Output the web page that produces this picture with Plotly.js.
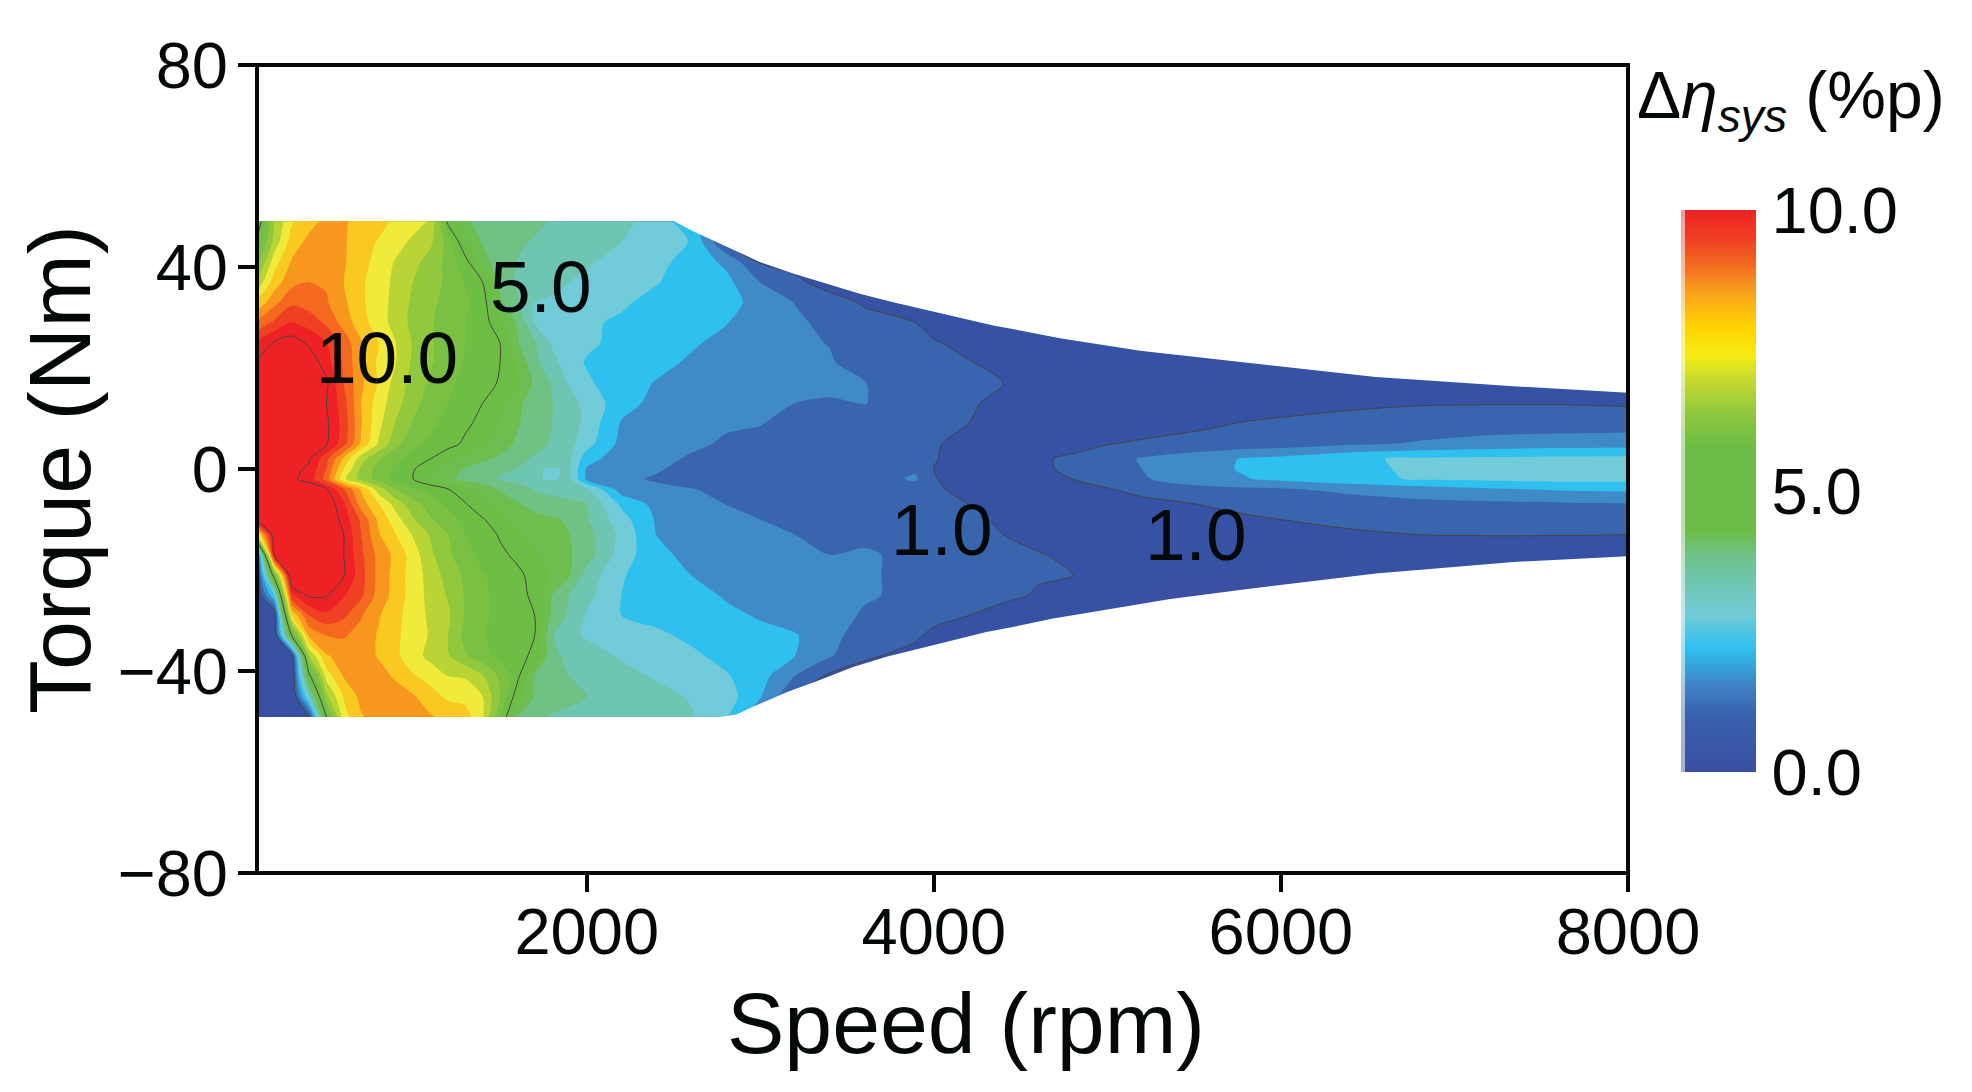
<!DOCTYPE html>
<html>
<head>
<meta charset="utf-8">
<script src="https://cdn.plot.ly/plotly-3.0.1.min.js"></script>
<style>html,body{margin:0;padding:0;background:#fff}#chart{width:1972px;height:1092px}</style>
</head>
<body>
<div id="chart"></div>
<script>
const speed=[100,200,300,400,500,600,700,800,900,1000,1100,1200,1300,1400,1500,1600,1700,1800,1900,2000,2200,2400,2600,2800,3000,3200,3400,3600,3890,4000,4200,4400,4600,4800,5000,5200,5400,5600,5800,6000,6400,6800,7200,7600,8000];
const torque=[-49.1,-45,-41,-37,-33,-29,-25,-21,-17,-13,-10,-7,-4,-2,0,2,5,9,13,17,21,25,29,33,37,41,45,49.05];
const r49=[4.5,6.5,7.45,7.8,8.15,8.05,7.85,7.7,7.4,7.2,6.95,4.85,4.05,3.9,3.8,3.7,3.6,3.47,3.38,3.3,3.1,2.85,2.1,1.6,1.2,.9,.8,.7,.6,.6,.55,.55,.55,.55,.55,.5,.5,.5,.5,.5,.5,.5,.5,.5,.5];
const r45=[5.1,6.7,7.7,8.15,8.3,8.05,7.75,7.45,7.2,6.9,6.6,5.8,4.5,3.95,3.8,3.6,3.45,3.35,3.25,3.15,3,2.7,2.48,1,.9,.8,.7,.65,.6,.6,.55,.55,.55,.55,.55,.5,.5,.5,.5,.5,.5,.5,.5,.5,.5];
const r41=[5.8,7.3,8.05,8.35,8.4,8.05,7.7,7.3,6.95,6.65,6.3,5.85,5.2,4.2,3.75,3.48,3.35,3.25,3.15,3.05,2.85,2.65,2.3,1.9,.95,.85,.75,.65,.6,.6,.55,.55,.55,.55,.55,.5,.5,.5,.5,.5,.5,.5,.5,.5,.5];
const r37=[6.6,7.75,8.35,8.5,8.45,8,7.6,7.2,6.9,6.5,6.2,5.9,5.45,5,3.85,3.42,3.3,3.2,3,2.9,2.7,2.52,2.35,2.15,1.5,1.1,.8,.7,.65,.6,.55,.55,.55,.55,.55,.5,.5,.5,.5,.5,.5,.5,.5,.5,.5];
const r33=[7.6,8.35,8.9,8.75,8.55,8.1,7.6,7.2,6.85,6.4,6.1,5.85,5.6,5.25,4.1,3.55,3,2.9,2.8,2.65,2.55,2.4,2.2,2.1,1.9,1.48,1.2,.95,.75,.65,.6,.55,.55,.55,.55,.5,.5,.5,.5,.5,.5,.5,.5,.5,.5];
const r29=[8.6,9.1,9.5,9.3,8.9,8.3,7.7,7.25,6.8,6.35,6.05,5.75,5.5,5.2,4.7,3.95,2.98,2.85,2.7,2.55,2.45,2.3,2.15,2.02,1.8,1.6,1.35,1.15,1,.85,.7,.6,.55,.55,.55,.5,.5,.5,.5,.5,.5,.5,.5,.5,.5];
const r25=[9.6,10.05,10.25,9.9,9.5,8.8,8.05,7.5,7,6.45,6.05,5.8,5.5,5.3,5,4.05,3.55,2.95,2.8,2.6,2.35,2.2,2.05,1.9,1.72,1.6,1.48,1.2,1.05,1.03,.9,.75,.65,.6,.55,.5,.5,.5,.5,.5,.5,.5,.5,.5,.5];
const r21=[10.05,10.6,10.8,10.35,9.75,8.9,8.1,7.4,7,6.4,6.05,5.75,5.45,5.25,5,4.4,3.65,3.15,2.75,2.45,2.25,2.1,1.95,1.8,1.7,1.6,1.55,1.28,1.15,1.05,1.02,.9,.7,.6,.55,.55,.55,.5,.5,.5,.5,.5,.5,.5,.5];
const r17=[10.7,11,11.1,11,10.1,9,8.1,7.45,6.8,6.3,5.9,5.6,5.35,5.2,4.95,4.55,3.9,3.45,2.95,2.6,2.15,1.98,1.8,1.7,1.62,1.58,1.7,1.52,1.2,1.1,1.05,1,.8,.7,.6,.55,.55,.55,.55,.55,.6,.6,.6,.6,.6];
const r13=[11,11.3,11.2,10.9,10,9.2,8,7.25,6.7,6.15,5.8,5.5,5.25,5,4.65,4.1,3.8,3.52,3.2,2.85,2.2,1.85,1.75,1.65,1.6,1.5,1.42,1.52,1.3,1.15,1.05,.9,.75,.7,.65,.6,.62,.68,.75,.82,.92,.97,.98,.98,.95];
const r9=[11.2,11.3,11.2,10.8,10.1,9.3,8.05,7.15,6.45,5.95,5.6,5.35,5.1,4.85,4.45,4.05,3.75,3.5,3.25,2.85,1.95,1.75,1.65,1.55,1.52,1.35,1.25,1.2,1.15,1.1,1,.85,.75,.7,.68,.75,.87,.95,1.03,1.08,1.15,1.22,1.25,1.27,1.28];
const r5=[11,11.1,10.9,10.5,10.05,9.2,7.9,6.95,6.15,5.65,5.4,5.2,4.9,4.55,4.25,3.9,3.65,3.45,3.15,2.7,1.85,1.65,1.58,1.45,1.35,1.25,1.2,1.15,1.1,1.03,.9,.8,.7,.8,.98,1.07,1.12,1.15,1.2,1.25,1.42,1.55,1.68,1.74,1.78];
const r2=[10.8,10.8,10.5,10.05,9.15,7.9,6.7,6.05,5.6,5.3,5,4.6,4.4,4.1,3.9,3.65,3.45,3.3,3.1,2.2,1.7,1.62,1.45,1.35,1.25,1.2,1.15,1.12,1.1,1.02,.85,.78,.92,1.1,1.25,1.55,1.7,1.85,2.05,2.15,2.42,2.58,2.62,2.65,2.65];
const r0=[10.7,10.6,10.2,9.9,9,7.5,6.4,5.8,5.4,5.05,4.6,4.3,3.95,3.7,3.6,3.48,3.05,2.95,3.05,1.95,1.65,1.55,1.35,1.25,1.18,1.15,1.12,1.1,1.4,1,.85,.75,.9,1.1,1.3,1.5,1.7,1.9,2.05,2.15,2.35,2.6,2.7,2.75,2.8];
const rm2=[10.5,10.4,10.1,9.8,8.8,7.1,6.3,5.85,5.3,5,4.5,4.1,3.85,3.7,3.45,3.3,3.05,2.95,3.1,1.9,1.6,1.45,1.3,1.2,1.15,1.12,1.1,1.1,1.6,1.02,.85,.75,.85,1,1.2,1.45,1.65,1.85,1.98,2.1,2.35,2.55,2.6,2.65,2.65];
const rm4=[10.4,10.6,10.6,10.4,10.05,9,7.95,6.75,6,5.55,5.35,5.02,4.65,4.25,3.95,3.75,3.45,3.3,3.2,3.05,1.75,1.6,1.52,1.4,1.3,1.2,1.15,1.15,1.12,1.05,.9,.8,.75,.85,.97,1.15,1.3,1.35,1.4,1.45,1.6,1.78,1.95,2.05,2.1];
const rm7=[10.2,10.8,10.9,10.8,10.4,9.6,8.25,7.55,6.8,6.2,5.75,5.4,5.05,4.6,4.3,4.05,3.85,3.75,3.65,3.5,2.4,1.85,1.65,1.5,1.35,1.25,1.2,1.15,1.1,1.1,1,.85,.75,.7,.75,.85,.93,1.05,1.15,1.2,1.3,1.35,1.38,1.42,1.45];
const rm10=[10.3,10.9,11,10.9,10.5,9.8,8.9,7.9,7.2,6.55,6.05,5.7,5.35,5.05,4.65,4.35,4.15,4.05,3.95,3.55,2.7,1.95,1.7,1.55,1.5,1.35,1.25,1.15,1.1,1.15,1.07,.95,.8,.7,.65,.7,.75,.8,.92,1,1.08,1.18,1.2,1.22,1.25];
const rm13=[7,10.5,11.2,11.2,10.9,10,9,8.05,7.5,6.95,6.45,6,5.5,5.25,4.95,4.55,4.3,4.15,4,3.7,2.85,2,1.75,1.65,1.55,1.5,1.4,1.4,1.25,1.15,1.1,1,.85,.75,.65,.6,.65,.7,.75,.85,.95,1,1.02,1.02,1];
const rm17=[.7,10.2,11.3,11.3,11,10,9.1,8.35,7.85,7.25,6.6,6.1,5.7,5.35,5.1,4.9,4.55,4.25,4.05,3.75,2.75,2.15,1.85,1.7,1.6,1.55,1.5,1.55,1.4,1.25,1.12,1.05,1.03,.9,.7,.6,.55,.55,.6,.6,.65,.65,.65,.6,.55];
const rm21=[.5,5.5,10.8,11,10.9,10.05,9.2,8.35,7.8,7.25,6.8,6.3,5.9,5.55,5.3,5.1,4.85,4.4,4.05,3.3,2.55,2.2,2,1.85,1.7,1.65,1.6,1.55,1.4,1.3,1.2,1.1,1.05,1,.8,.6,.5,.5,.5,.5,.5,.5,.5,.5,.5];
const rm25=[.5,2.5,9.4,10.1,10.05,9.55,9.1,8.3,7.8,7.25,6.85,6.45,5.95,5.6,5.35,5.15,4.9,4,3.5,3.15,2.5,2.3,2.2,1.95,1.75,1.68,1.62,1.55,1.4,1.3,1.2,1.12,.95,.7,.55,.5,.5,.5,.5,.5,.5,.5,.5,.5,.5];
const rm29=[.4,.5,7.5,9,9.4,9.1,8.55,8.05,7.65,7.25,6.9,6.6,5.95,5.6,5.35,5.15,5,3.9,3.4,2.95,2.5,2.35,2.25,2.12,1.95,1.75,1.68,1.45,1.3,1.2,1,.8,.6,.5,.5,.5,.5,.5,.5,.5,.5,.5,.5,.5,.5];
const rm33=[.4,.4,5,8.1,8.5,8.55,8.3,7.95,7.6,7.25,6.95,6.5,5.85,5.55,5.3,5.15,5,3.55,3.1,2.95,2.75,2.6,2.4,2.3,2.15,2.05,1.6,1.35,1.1,.85,.65,.5,.5,.5,.5,.5,.5,.5,.5,.5,.5,.5,.5,.5,.5];
const rm37=[.4,.4,.6,6.5,7.95,8.2,8.3,7.95,7.6,7.2,6.85,6.55,6.05,5.7,5.35,5.15,4.9,3.6,3.4,3.2,2.95,2.8,2.6,2.35,2.2,2,1.55,1.1,.8,.6,.5,.5,.5,.5,.5,.5,.5,.5,.5,.5,.5,.5,.5,.5,.5];
const rm41=[.4,.4,.4,4.8,7.2,8.05,8.2,8.25,7.9,7.55,7.3,7,6.95,6.55,5.9,5.15,3.95,3.6,3.5,3.35,3.15,2.95,2.75,2.55,2.2,1.5,.9,.7,.6,.5,.5,.5,.5,.5,.5,.5,.5,.5,.5,.5,.5,.5,.5,.5,.5];
const rm45=[.4,.4,.4,3,6.4,7.55,8.15,8.3,8.3,8.05,7.7,7.4,7.3,7,6,4.7,3.95,3.75,3.6,3.5,3.3,3.15,2.95,2.75,2.05,1,.7,.6,.5,.5,.5,.5,.5,.5,.5,.5,.5,.5,.5,.5,.5,.5,.5,.5,.5];
const rm49=[.4,.4,.4,.8,5,7.3,7.95,8.2,8.3,8.35,8.05,7.85,7.75,7.05,5.6,3.95,3.7,3.45,3.4,3.35,3.25,3.15,3.05,2.55,1.5,.9,.7,.6,.5,.5,.5,.5,.5,.5,.5,.5,.5,.5,.5,.5,.5,.5,.5,.5,.5];
const deltaEff=[rm49,rm45,rm41,rm37,rm33,rm29,rm25,rm21,rm17,rm13,rm10,rm7,rm4,rm2,r0,r2,r5,r9,r13,r17,r21,r25,r29,r33,r37,r41,r45,r49];

const bandColors=['#3A50A2','#3552A4','#3965AF','#408AC8','#2EC0EE','#72CBD8','#6EC5B1','#70C184','#6DBE4E','#6CBD45','#6EBE44','#7AC143','#92C83E','#B9D535','#F0EA3A','#F9C922','#F7971D','#F4691F','#EF4023','#EE2224'];
const barStops=[[0,'#3A50A2'],[1,'#3860AC'],[1.5,'#3F80C4'],[2.2,'#2FC0EF'],[2.8,'#72CBD8'],[3.5,'#6EC5A8'],[3.9,'#70C184'],[4.3,'#6CBD45'],[5.8,'#6CBD45'],[6.4,'#92C83E'],[7,'#C8DA2E'],[7.4,'#F5EC14'],[7.9,'#FFD400'],[8.5,'#F9A51A'],[9,'#F36C21'],[9.5,'#EF3E24'],[10,'#EE2224']];
const isoLevels=[1,5,10];
const topLimitSpeed=[2500,2507,2613,2805,2997,3189,3381,3573,3766,3958,4150,4342,4534,4726,5189,5752,6547,7341,8000];
const topLimitTorque=[49.2,49,47.1,44.1,41,38.7,36.7,34.7,33,31.5,30,28.4,27.2,25.9,23.4,21.2,18.2,16.4,15.1];
const botLimitSpeed=[2767,2863,2958,3151,3343,3535,3727,3919,4112,4303,4495,4687,4879,5072,5354,5752,6547,7341,8000];
const botLimitTorque=[-49.1,-48.6,-47.1,-44.2,-41.8,-39.2,-37.2,-35.6,-33.9,-32.3,-31,-29.6,-28.5,-27.4,-25.8,-24,-20.7,-18.4,-17.3];
const contourLabels=['10.0','5.0','1.0','1.0'];
const labelSpeed=[849,1736,4047,5505];
const labelTorque=[22,36.2,-11.9,-12.9];
const barTickVals=[0,5,10];
const barTickText=['0.0','5.0','10.0'];

const FONT='"Liberation Sans", Arial, sans-serif';
const INK='#050808';
const PLOT={l:257.3,r:1628,t:64.7,b:872.7};
const paperX=px=>(px-PLOT.l)/(PLOT.r-PLOT.l);
const paperY=py=>(PLOT.b-py)/(PLOT.b-PLOT.t);

function pale(hex){
  const n=parseInt(hex.slice(1),16);
  const c=[n>>16&255,n>>8&255,n&255].map(v=>Math.round(v+(255-v)*0.55));
  return 'rgb('+c.join(',')+')';
}
const traces=[];
traces.push({
  type:'contour',x:speed,y:torque,z:deltaEff,
  autocontour:false,
  contours:{start:0.5,end:9.5,size:0.5,coloring:'fill',showlines:false},
  colorscale:bandColors.map((c,i)=>[i/(bandColors.length-1),c]),
  line:{width:0,smoothing:0.8},
  showscale:false,hoverinfo:'skip'
});
isoLevels.forEach(v=>traces.push({
  type:'contour',x:speed,y:torque,z:deltaEff,
  autocontour:false,
  contours:{start:v,end:v,size:1,coloring:'none'},
  line:{color:'#444444',width:1,smoothing:0.8},
  showscale:false,hoverinfo:'skip'
}));
traces.push({type:'scatter',mode:'lines',x:topLimitSpeed.concat([8000,2500]),y:topLimitTorque.concat([60,60]),fill:'toself',fillcolor:'#fff',line:{width:0},hoverinfo:'skip',showlegend:false});
traces.push({type:'scatter',mode:'lines',x:botLimitSpeed.concat([8000,2767]),y:botLimitTorque.concat([-60,-60]),fill:'toself',fillcolor:'#fff',line:{width:0},hoverinfo:'skip',showlegend:false});
traces.push({
  type:'scatter',mode:'markers',x:[100],y:[0],hoverinfo:'skip',showlegend:false,
  marker:{size:1,opacity:0,color:[0],cmin:0,cmax:10,showscale:true,
    colorscale:barStops.map(s=>[s[0]/10,s[1]]),
    colorbar:{x:paperX(1685),xanchor:'left',xpad:0,y:paperY(491),yanchor:'middle',ypad:0,lenmode:'pixels',len:562,thicknessmode:'pixels',thickness:71,
      outlinewidth:0,borderwidth:0,tickmode:'array',tickvals:barTickVals,ticktext:barTickText,ticks:'outside',ticklen:3,tickcolor:'rgba(0,0,0,0)',
      tickfont:{family:FONT,size:65,color:INK}}}
});
traces.push({
  type:'scatter',mode:'markers',x:[100],y:[0],hoverinfo:'skip',showlegend:false,
  marker:{size:1,opacity:0,color:[0],cmin:0,cmax:10,showscale:true,
    colorscale:barStops.map(s=>[s[0]/10,pale(s[1])]),
    colorbar:{x:paperX(1681),xanchor:'left',xpad:0,y:paperY(491),yanchor:'middle',ypad:0,lenmode:'pixels',len:562,thicknessmode:'pixels',thickness:4,
      outlinewidth:0,borderwidth:0,showticklabels:false,ticks:''}}
});

const axisCommon={showline:false,showgrid:false,zeroline:false,ticks:'outside',ticklen:18,tickwidth:4,tickcolor:INK,tickfont:{family:FONT,size:65,color:INK}};
const annotations=contourLabels.map((t,i)=>({x:labelSpeed[i],y:labelTorque[i],xref:'x',yref:'y',text:t,showarrow:false,font:{family:FONT,size:73,color:INK}}));
annotations.push({xref:'paper',yref:'paper',x:paperX(1635),y:paperY(100),xanchor:'left',yanchor:'middle',showarrow:false,
  text:'Δ<i>η</i><sub><i>sys</i></sub> (%p)',font:{family:FONT,size:66,color:INK}});
annotations.push({xref:'paper',yref:'paper',x:paperX(966),y:paperY(1023),xanchor:'center',yanchor:'middle',showarrow:false,
  text:'Speed (rpm)',font:{family:FONT,size:86,color:INK}});
annotations.push({xref:'paper',yref:'paper',x:paperX(60),y:paperY(469),xanchor:'center',yanchor:'middle',textangle:-90,showarrow:false,
  text:'Torque (Nm)',font:{family:FONT,size:88,color:INK}});

Plotly.newPlot('chart',traces,{
  width:1972,height:1092,paper_bgcolor:'#fff',plot_bgcolor:'#fff',showlegend:false,
  margin:{l:PLOT.l,r:1972-PLOT.r,t:PLOT.t,b:1092-PLOT.b,pad:0},
  xaxis:Object.assign({},axisCommon,{range:[100,8000],tickmode:'array',tickvals:[2000,4000,6000,8000],ticktext:['2000','4000','6000','8000'],ticklabelstandoff:-16}),
  yaxis:Object.assign({},axisCommon,{range:[-80,80],tickmode:'array',tickvals:[-80,-40,0,40,80],ticktext:['−80','−40','0','40','80'],ticklabelstandoff:-3}),
  shapes:[{type:'rect',xref:'paper',yref:'paper',x0:0,x1:1,y0:0,y1:1,line:{color:INK,width:4},fillcolor:'rgba(0,0,0,0)',layer:'above'}],
  annotations:annotations
},{displayModeBar:false,staticPlot:true});
</script>
</body>
</html>
